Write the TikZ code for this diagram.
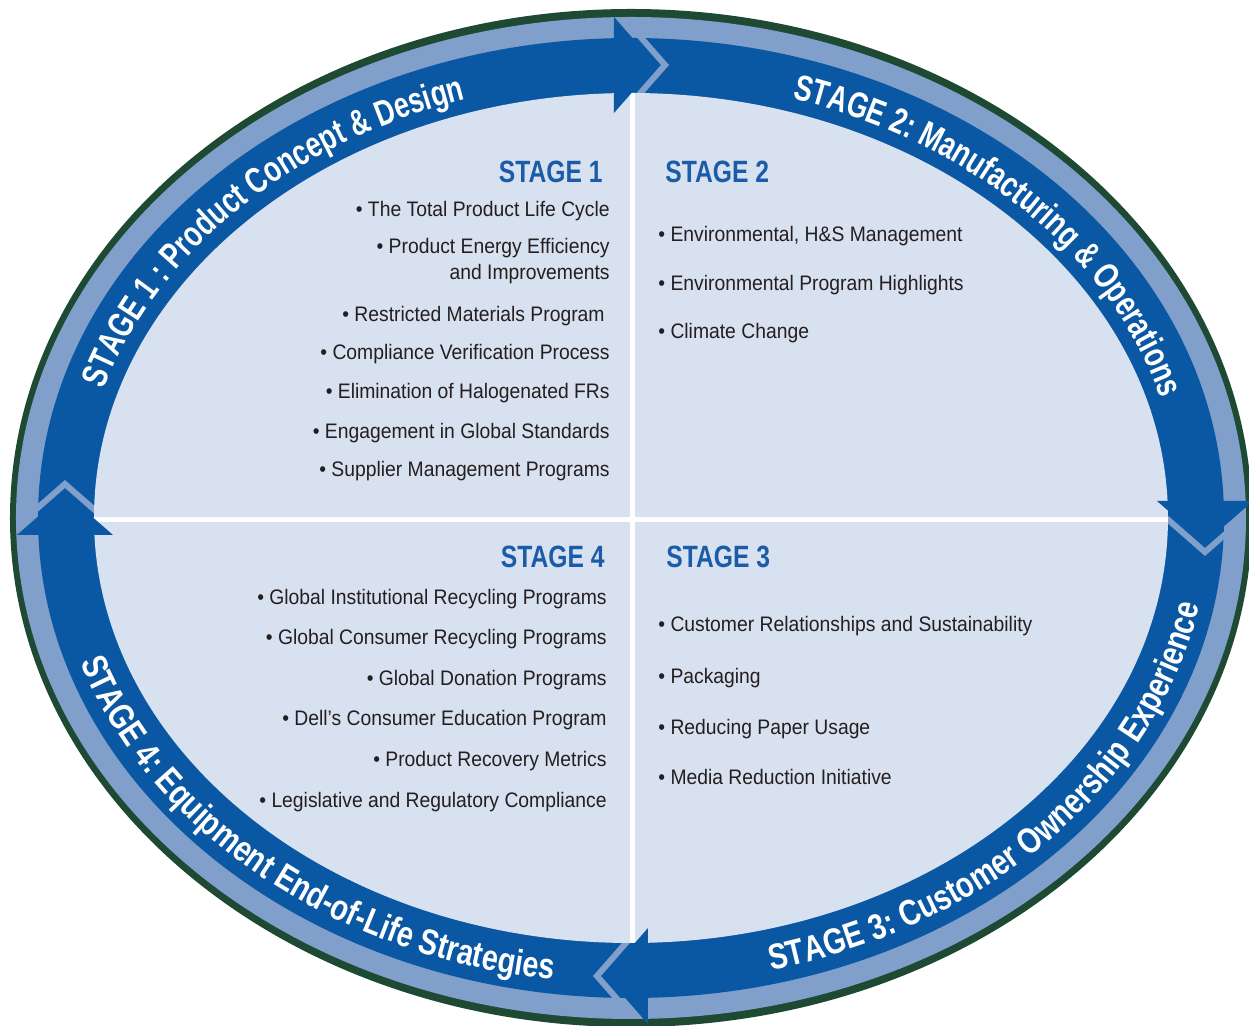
\documentclass[tikz,border=0pt]{standalone}
\usepackage{fontspec}
\setmainfont[FakeStretch=0.92]{Liberation Sans}
\newfontfamily\condfont[FakeStretch=0.8]{Liberation Sans}
\newfontfamily\tightfont[FakeStretch=0.75]{Liberation Sans}
\usepackage{tikz}
\usetikzlibrary{decorations.text}
\definecolor{RimGreen}{HTML}{1E4A34}
\definecolor{RingLight}{HTML}{809FCB}
\definecolor{BandBlue}{HTML}{0A58A3}
\definecolor{FieldBlue}{HTML}{D8E1EF}
\definecolor{HeadBlue}{HTML}{1B5CA8}
\definecolor{ItemBlack}{HTML}{231F20}

\begin{document}
\begin{tikzpicture}[x=0.5pt, y=0.5pt,
      item/.style={text=ItemBlack, inner sep=0pt,
        font=\fontsize{10.5}{12}\selectfont},
      heading/.style={text=HeadBlue, inner sep=0pt,
        font=\condfont\bfseries\fontsize{15.4}{18}\selectfont},
      bandtext/.style={decorate, decoration={text along path,
        text color=white, text align=left,
        text={|\condfont\bfseries\fontsize{18}{20}\selectfont|#1}}},
      innertext/.style={decorate, decoration={text along path,
        text color=white, text align=left,
        text={|\tightfont\bfseries\fontsize{18}{20}\selectfont|#1}}},
      gap/.style={draw=RingLight, line width=3pt, line join=miter}]

    \useasboundingbox (-631,-508) rectangle (618,518);
    \clip (-631,-508) rectangle (618,518);

    % rings
    \fill[RimGreen] (0,0) ellipse [x radius=621, y radius=509];
    \fill[RingLight] (0,0) ellipse [x radius=615, y radius=501];
    \fill[BandBlue] (0,0) ellipse [x radius=593, y radius=480];
    \begin{scope}
      \clip (0,0) ellipse [x radius=615, y radius=501];
      \foreach \cx/\cy/\turn in {0/453/0, 574/0/-90, 0/-458/180, -566/0/90}
        \draw[gap, shift={(\cx,\cy)}, rotate=\turn] (-22,64) -- (34,0) -- (-22,-64);
    \end{scope}
    \fill[FieldBlue] (0,0) ellipse [x radius=537, y radius=425];

    % cross
    \begin{scope}
      \clip (0,0) ellipse [x radius=537, y radius=425];
      \fill[white] (-1,-430) rectangle (4,430);
      \fill[white] (-540,-4) rectangle (540,1);
    \end{scope}

    % arrow heads
    \foreach \cx/\cy/\turn in {0/453/0, 574/0/-90, 0/-458/180, -566/0/90}
      \fill[BandBlue, shift={(\cx,\cy)}, rotate=\turn] (-17,48) -- (25,0) -- (-17,-48) -- cycle;

    % band labels
    \path[innertext={STAGE 1 : Product Concept {\&} Design}]
      (163:551 and 439) arc[start angle=163, end angle=80, x radius=551, y radius=439];
    \path[innertext={STAGE 2: Manufacturing {\&} Operations}]
      (73:551 and 439) arc[start angle=73, end angle=-20, x radius=551, y radius=439];
    \path[bandtext={STAGE 3: Customer Ownership Experience}]
      (-76:579 and 466) arc[start angle=-76, end angle=10, x radius=579, y radius=466];
    \path[bandtext={STAGE 4: Equipment End-of-Life Strategies}]
      (198:579 and 466) arc[start angle=198, end angle=285, x radius=579, y radius=466];

    % stage 1
    \node[heading, anchor=base east] (StageOneHead) at (-28,335) {STAGE 1};
    \node[item, anchor=base east] (StageOneA) at (-21,301) {\textbullet\ The Total Product Life Cycle};
    \node[item, anchor=base east] (StageOneB) at (-21,264) {\textbullet\ Product Energy Efficiency};
    \node[item, anchor=base east] (StageOneBb) at (-21,238) {and Improvements};
    \node[item, anchor=base east] (StageOneC) at (-26,196) {\textbullet\ Restricted Materials Program};
    \node[item, anchor=base east] (StageOneD) at (-21,158) {\textbullet\ Compliance Verification Process};
    \node[item, anchor=base east] (StageOneE) at (-21,119) {\textbullet\ Elimination of Halogenated FRs};
    \node[item, anchor=base east] (StageOneF) at (-21,79) {\textbullet\ Engagement in Global Standards};
    \node[item, anchor=base east] (StageOneG) at (-21,41) {\textbullet\ Supplier Management Programs};

    % stage 2
    \node[heading, anchor=base west] (StageTwoHead) at (34,335) {STAGE 2};
    \node[item, anchor=base west] (StageTwoA) at (27,276) {\textbullet\ Environmental, H\&S Management};
    \node[item, anchor=base west] (StageTwoB) at (27,227) {\textbullet\ Environmental Program Highlights};
    \node[item, anchor=base west] (StageTwoC) at (27,179) {\textbullet\ Climate Change};

    % stage 3
    \node[heading, anchor=base west] (StageThreeHead) at (35,-50) {STAGE 3};
    \node[item, anchor=base west] (StageThreeA) at (27,-114) {\textbullet\ Customer Relationships and Sustainability};
    \node[item, anchor=base west] (StageThreeB) at (27,-166) {\textbullet\ Packaging};
    \node[item, anchor=base west] (StageThreeC) at (27,-217) {\textbullet\ Reducing Paper Usage};
    \node[item, anchor=base west] (StageThreeD) at (27,-267) {\textbullet\ Media Reduction Initiative};

    % stage 4
    \node[heading, anchor=base east] (StageFourHead) at (-26,-50) {STAGE 4};
    \node[item, anchor=base east] (StageFourA) at (-24,-87) {\textbullet\ Global Institutional Recycling Programs};
    \node[item, anchor=base east] (StageFourB) at (-24,-127) {\textbullet\ Global Consumer Recycling Programs};
    \node[item, anchor=base east] (StageFourC) at (-24,-168) {\textbullet\ Global Donation Programs};
    \node[item, anchor=base east] (StageFourD) at (-24,-208) {\textbullet\ Dell's Consumer Education Program};
    \node[item, anchor=base east] (StageFourE) at (-24,-249) {\textbullet\ Product Recovery Metrics};
    \node[item, anchor=base east] (StageFourF) at (-24,-290) {\textbullet\ Legislative and Regulatory Compliance};

  \end{tikzpicture}
\end{document}
